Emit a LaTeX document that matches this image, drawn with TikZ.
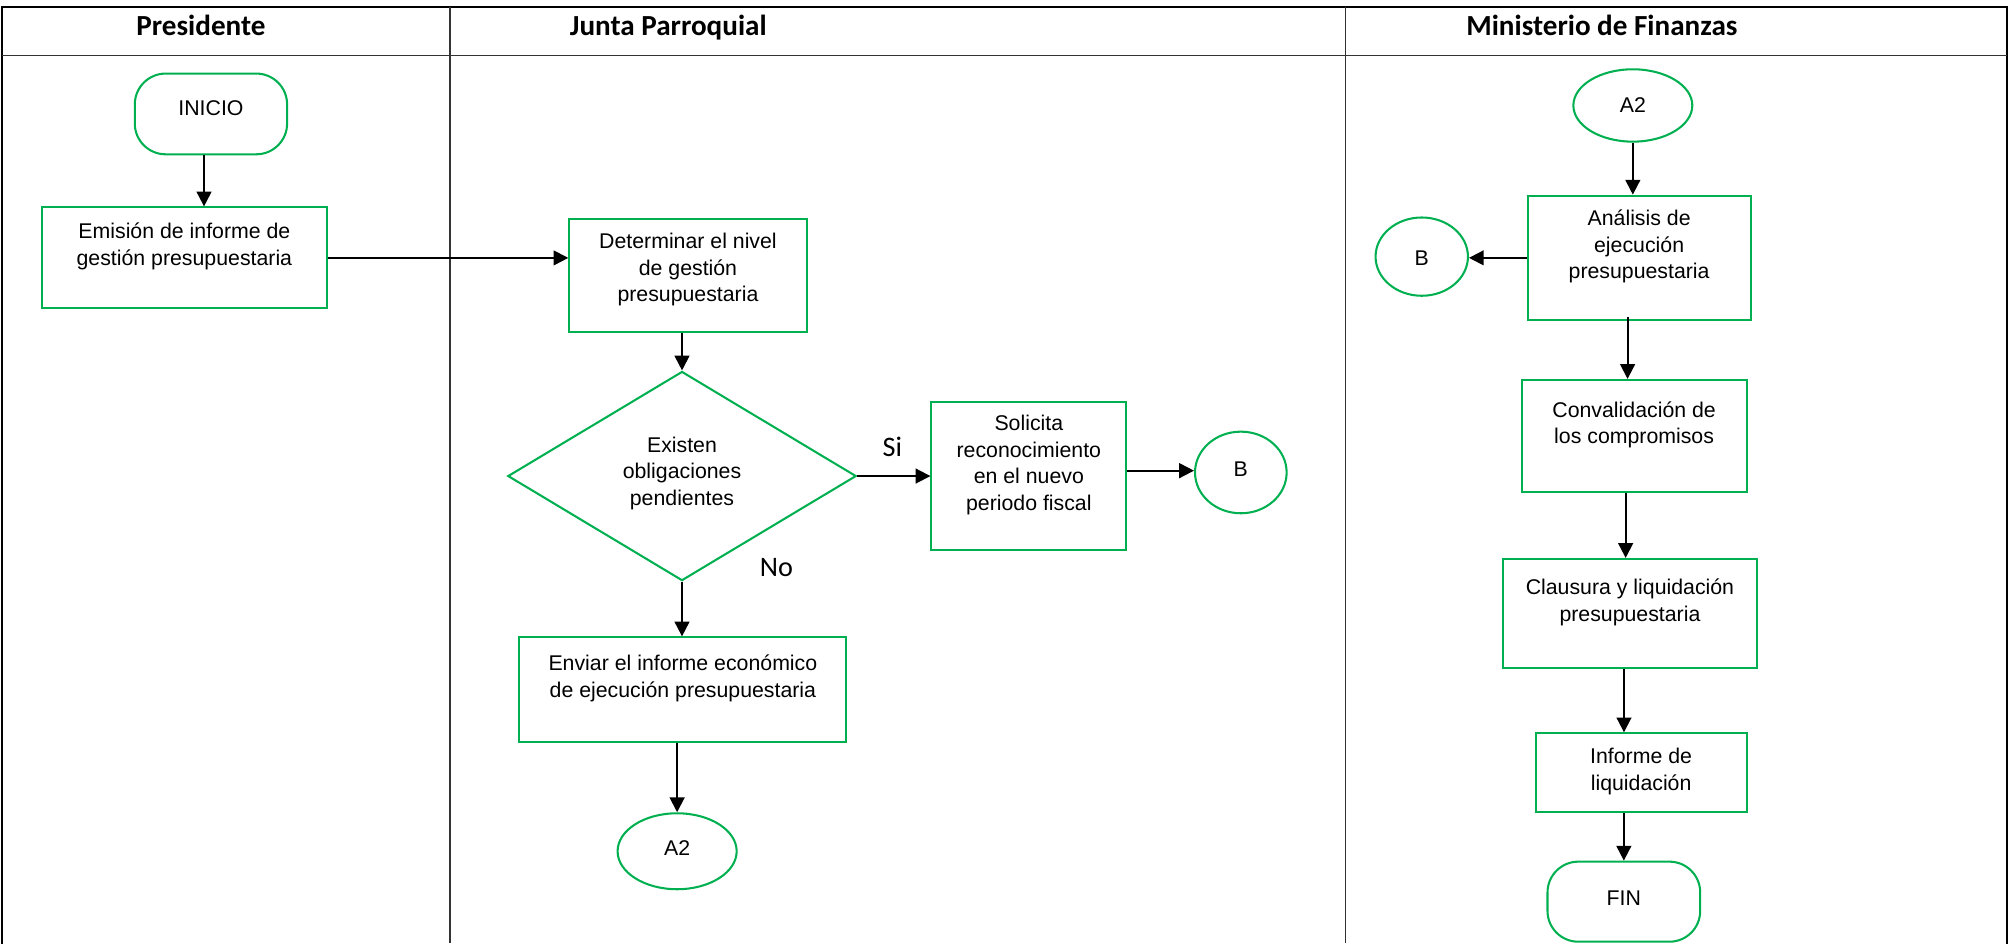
\documentclass[tikz,border=0pt]{standalone}
\usepackage{fontspec}
\setmainfont{Liberation Sans}
\newfontfamily\hdrfont{Carlito}
\usetikzlibrary{shapes.geometric,arrows.meta}
\definecolor{flowgreen}{RGB}{0,176,80}
\begin{document}
\begin{tikzpicture}[x=1pt,y=-1pt,
  frame/.style={line width=1.7pt,black,line cap=rect},
  thinline/.style={line width=1pt,black!80},
  gbox/.style={draw=flowgreen,line width=1.6pt,rectangle,inner sep=0pt},
  term/.style={gbox,rounded corners=24pt},
  oval/.style={draw=flowgreen,line width=1.6pt,ellipse,inner sep=0pt},
  dec/.style={draw=flowgreen,line width=1.6pt,diamond,inner sep=0pt},
  txt/.style={font=\fontsize{16.6}{20.8}\selectfont,align=center,inner sep=0pt},
  hdr/.style={font=\hdrfont\bfseries\fontsize{22.7}{26}\selectfont,inner sep=0pt,anchor=base},
  lbl/.style={font=\hdrfont\fontsize{22}{26}\selectfont,inner sep=0pt},
  arr/.style={line width=1.5pt,-{Triangle[length=11.5pt,width=11.5pt]}}
]
\useasboundingbox (0,0) rectangle (1568,735);

% lanes
\draw[frame] (1.4,735) -- (1.4,5.2) -- (1563.8,5.2) -- (1563.8,735);
\draw[thinline] (1.4,43.4) -- (1563.8,43.4);
\draw[thinline] (350.7,5.2) -- (350.7,735);
\draw[thinline] (1048.7,5.2) -- (1048.7,735);

\node[hdr] (hpres) at (156.6,28) {Presidente};
\node[hdr] (hjunta) at (520.8,28) {Junta Parroquial};
\node[hdr] (hmin) at (1248.4,27.3) {Ministerio de Finanzas};

% Presidente
\node[term,minimum width=118.7pt,minimum height=62.9pt] (inicio) at (164.4,88.8) {};
\node[txt] (inicioT) at (164.4,84.4) {INICIO};
\node[gbox,minimum width=222pt,minimum height=78.7pt] (emision) at (143.7,201) {};
\node[txt] (emisionT) at (143.7,192.2) {Emisión de informe de\\gestión presupuestaria};

% Junta Parroquial
\node[gbox,minimum width=184.9pt,minimum height=88.1pt] (determinar) at (536.15,214.95) {};
\node[txt] (determinarT) at (536.15,210.2) {Determinar el nivel\\de gestión\\presupuestaria};
\node[dec,minimum width=271.5pt,minimum height=163pt] (decision) at (531.5,371) {};
\node[txt] (decisionT) at (531.5,368.8) {Existen\\obligaciones\\pendientes};
\node[gbox,minimum width=151.8pt,minimum height=115.6pt] (solicita) at (801.8,370.8) {};
\node[txt] (solicitaT) at (801.8,362.3) {Solicita\\reconocimiento\\en el nuevo\\periodo fiscal};
\node[oval,minimum width=71.4pt,minimum height=63.6pt] (bone) at (967,368.2) {};
\node[txt] (boneT) at (967,365.5) {B};
\node[gbox,minimum width=254.8pt,minimum height=81.3pt] (enviar) at (532.2,537.4) {};
\node[txt] (enviarT) at (532.2,528.6) {Enviar el informe económico\\de ejecución presupuestaria};
\node[oval,minimum width=92.8pt,minimum height=59.2pt] (atwo) at (527.7,663.4) {};
\node[txt] (atwoT) at (527.7,661) {A2};
\node[lbl] (si) at (695.5,348.5) {Si};
\node[lbl] (no) at (605,442) {No};

% Ministerio de Finanzas
\node[oval,minimum width=92.7pt,minimum height=56.4pt] (atwob) at (1272.5,82.2) {};
\node[txt] (atwobT) at (1272.5,81.8) {A2};
\node[gbox,minimum width=173.8pt,minimum height=96.9pt] (analisis) at (1277.4,200.95) {};
\node[txt] (analisisT) at (1277.4,192.2) {Análisis de\\ejecución\\presupuestaria};
\node[oval,minimum width=72pt,minimum height=61pt] (btwo) at (1108,200) {};
\node[txt] (btwoT) at (1108,201.5) {B};
\node[gbox,minimum width=175.4pt,minimum height=87.6pt] (conval) at (1273.5,339.9) {};
\node[txt] (convalT) at (1273.5,331.2) {Convalidación de\\los compromisos};
\node[gbox,minimum width=197.5pt,minimum height=84.7pt] (clausura) at (1270.25,477.95) {};
\node[txt] (clausuraT) at (1270.25,469.7) {Clausura y liquidación\\presupuestaria};
\node[gbox,minimum width=164.5pt,minimum height=61.5pt] (informe) at (1278.95,602.25) {};
\node[txt] (informeT) at (1278.95,601) {Informe de\\liquidación};
\node[term,minimum width=119pt,minimum height=62.4pt] (fin) at (1265.5,702.7) {};
\node[txt] (finT) at (1265.5,700) {FIN};

% connectors
\draw[arr] ([xshift=-5.4pt]inicio.south) -- ([xshift=-5.4pt]inicio.south |- emision.north);
\draw[arr] (emision.east) -- (emision.east -| determinar.west);
\draw[arr] (decision.north |- determinar.south) -- (decision.north);
\draw[arr] (decision.east) -- (decision.east -| solicita.west);
\draw[arr] ([yshift=4pt]solicita.east) -- ([yshift=4pt]solicita.east -| bone.west);
\draw[arr] (decision.south) -- (decision.south |- enviar.north);
\draw[arr] (enviar.south -| atwo.north) -- (atwo.north);
\draw[arr] (atwob.south) -- (atwob.south |- analisis.north);
\draw[arr] (analisis.west) -- (analisis.west -| btwo.east);
\draw[arr] ([xshift=-9pt,yshift=3pt]analisis.south) -- ([xshift=-9pt]analisis.south |- conval.north);
\draw[arr] ([xshift=-6.6pt]conval.south) -- ([xshift=-6.6pt]conval.south |- clausura.north);
\draw[arr] ([xshift=-4.65pt]clausura.south) -- ([xshift=-4.65pt]clausura.south |- informe.north);
\draw[arr] (fin.north |- informe.south) -- (fin.north);
\end{tikzpicture}
\end{document}
